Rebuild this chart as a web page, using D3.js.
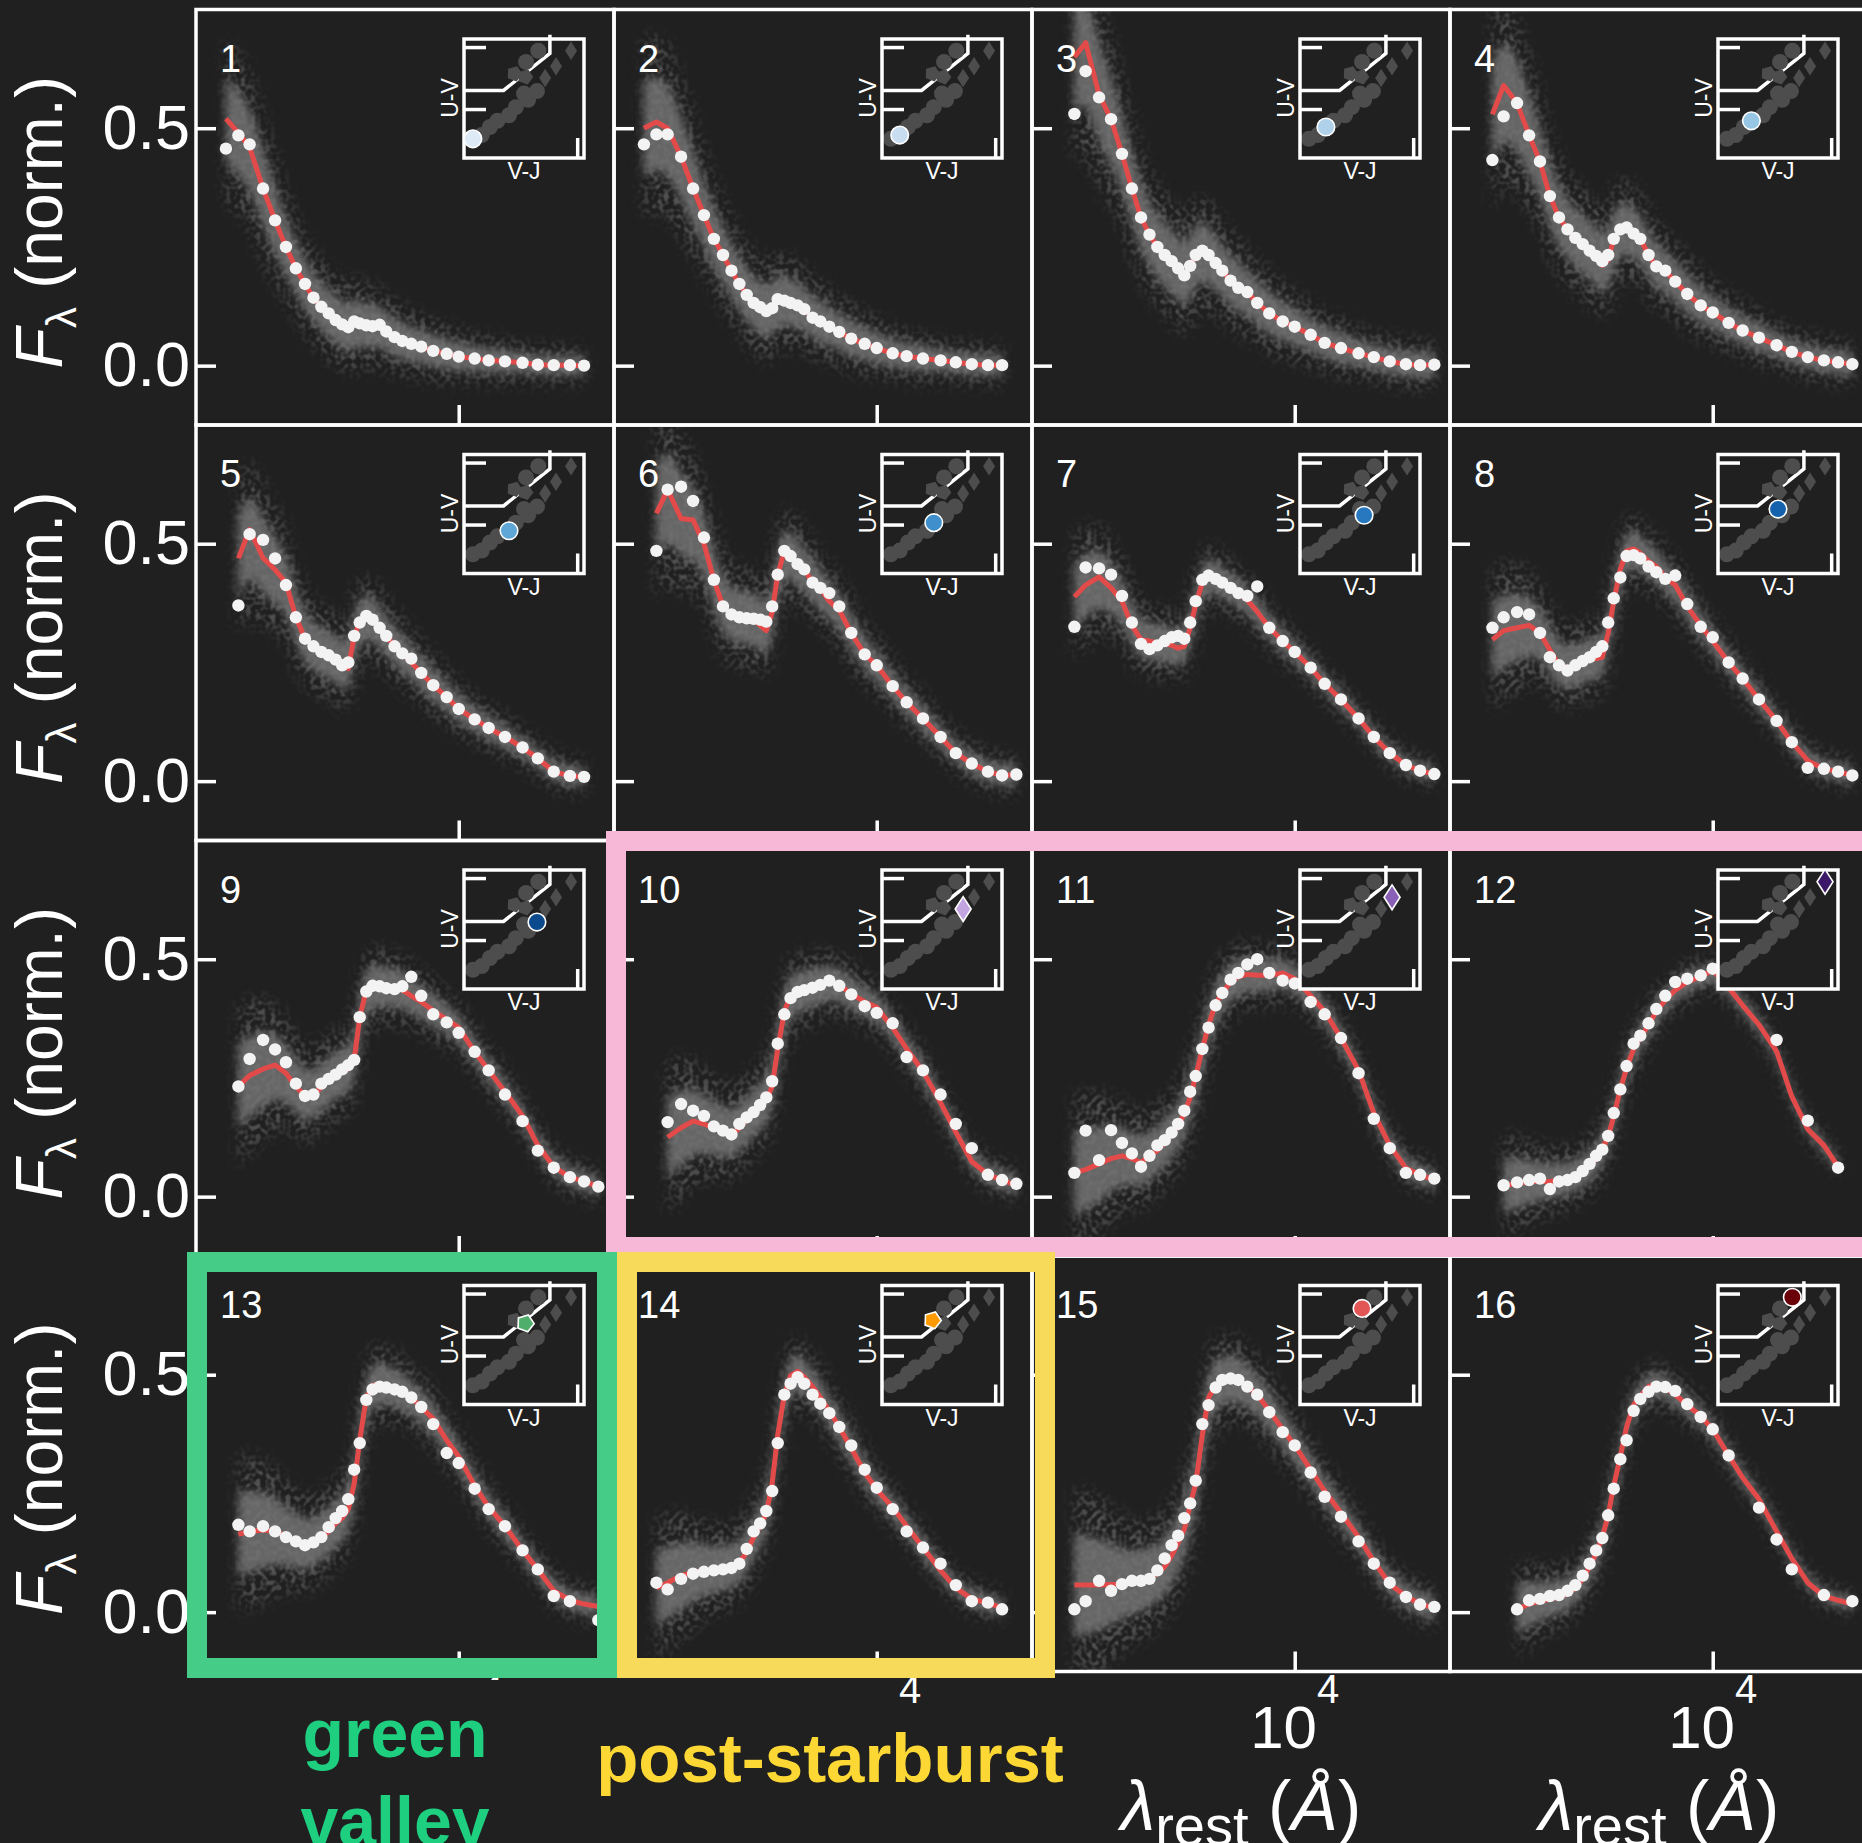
<!DOCTYPE html>
<meta charset="utf-8">
<script src="https://d3js.org/d3.v7.min.js"></script>
<style>
body { margin: 0; background: #202020; }
svg { display: block; font-family: 'Liberation Sans', Arial, Helvetica, sans-serif; }
</style>
<svg width="1862" height="1843"></svg>
<script>
// rest-frame wavelength grid (Angstrom) shared by all panels
var wavelengths = [1300, 1450, 1600, 1800, 2000, 2200, 2400, 2600, 2800, 3000, 3200, 3400, 3600, 3800,
  4000, 4200, 4450, 4700, 5000, 5300, 5700, 6100, 6600, 7200, 8000, 9000, 10000, 11500, 13000,
  15000, 17500, 20000, 23000, 26500, 30000, 34000];

// red model curve, one list per cluster
var modelFlux = [
  [0.52,0.49,0.46,0.373,0.306,0.25,0.205,0.172,0.143,0.124,0.110,0.096,0.087,0.076,0.091,0.087,0.083,0.082,0.084,0.071,0.059,0.052,0.046,0.040,0.031,0.025,0.019,0.015,0.011,0.009,0.006,0.002,0.001,0.001,0.0,null],
  [0.50,0.513,0.50,0.44,0.373,0.317,0.267,0.233,0.2,0.172,0.149,0.132,0.123,0.11,0.118,0.14,0.137,0.132,0.127,0.119,0.101,0.093,0.082,0.071,0.057,0.046,0.037,0.026,0.02,0.015,0.011,0.007,0.003,0.001,0.001,null],
  [null,0.65,0.68,0.57,0.519,0.446,0.373,0.312,0.276,0.25,0.233,0.22,0.205,0.183,0.21,0.233,0.242,0.233,0.216,0.2,0.179,0.164,0.155,0.132,0.11,0.093,0.082,0.065,0.048,0.037,0.026,0.018,0.009,0.003,0.001,0.002],
  [null,0.529,0.59,0.553,0.485,0.43,0.357,0.312,0.287,0.269,0.256,0.242,0.231,0.211,0.222,0.267,0.287,0.291,0.278,0.267,0.233,0.209,0.2,0.177,0.151,0.127,0.112,0.09,0.074,0.059,0.043,0.029,0.018,0.011,0.007,0.003],
  [null,0.469,0.53,0.47,0.445,0.418,0.345,0.30,0.284,0.272,0.265,0.256,0.244,0.237,0.306,0.334,0.348,0.34,0.323,0.306,0.284,0.269,0.25,0.228,0.202,0.177,0.152,0.13,0.112,0.093,0.071,0.048,0.02,0.011,0.009,null],
  [null,0.564,0.614,0.553,0.55,0.50,0.424,0.368,0.351,0.345,0.343,0.342,0.328,0.317,0.356,0.435,0.485,0.474,0.457,0.446,0.418,0.405,0.379,0.36,0.312,0.267,0.244,0.2,0.166,0.132,0.093,0.059,0.037,0.02,0.012,0.014],
  [null,0.388,0.413,0.43,0.407,0.379,0.328,0.298,0.295,0.291,0.289,0.286,0.28,0.284,0.323,0.373,0.418,0.435,0.429,0.418,0.407,0.396,0.381,0.357,0.323,0.295,0.272,0.239,0.205,0.172,0.132,0.093,0.059,0.034,0.022,0.015],
  [null,0.298,0.317,0.323,0.328,0.312,0.276,0.244,0.239,0.244,0.25,0.256,0.258,0.261,0.312,0.379,0.446,0.485,0.489,0.48,0.463,0.452,0.429,0.413,0.368,0.328,0.295,0.25,0.216,0.172,0.127,0.082,0.043,0.026,0.02,0.012],
  [null,0.232,0.255,0.269,0.277,0.26,0.232,0.212,0.215,0.23,0.245,0.254,0.262,0.269,0.288,0.378,0.435,0.443,0.443,0.441,0.439,0.435,0.423,0.41,0.392,0.373,0.356,0.305,0.266,0.221,0.17,0.108,0.063,0.041,0.032,0.021],
  [null,null,0.125,0.145,0.159,0.153,0.144,0.136,0.131,0.144,0.162,0.176,0.189,0.204,0.232,0.311,0.39,0.423,0.431,0.435,0.438,0.444,0.452,0.446,0.427,0.41,0.399,0.356,0.311,0.264,0.198,0.136,0.074,0.046,0.035,0.024],
  [null,0.05,0.057,0.069,0.08,0.086,0.08,0.072,0.086,0.097,0.114,0.131,0.148,0.176,0.209,0.254,0.311,0.361,0.407,0.429,0.452,0.463,0.468,0.466,0.466,0.471,0.459,0.423,0.39,0.334,0.266,0.176,0.108,0.06,0.046,0.035],
  [null,null,0.024,0.027,0.032,0.032,0.032,0.035,0.039,0.043,0.054,0.065,0.08,0.102,0.125,0.17,0.226,0.271,0.311,0.334,0.362,0.39,0.414,0.435,0.452,0.463,0.477,0.44,0.403,0.362,0.306,0.211,0.142,0.108,0.063,null],
  [null,0.164,0.17,0.173,0.17,0.161,0.149,0.141,0.147,0.158,0.17,0.187,0.198,0.217,0.271,0.362,0.452,0.477,0.481,0.479,0.473,0.464,0.452,0.432,0.407,0.362,0.328,0.266,0.221,0.181,0.13,0.09,0.045,0.025,0.017,0.012],
  [null,0.051,0.062,0.077,0.084,0.088,0.09,0.093,0.096,0.104,0.127,0.158,0.181,0.209,0.271,0.373,0.458,0.498,0.507,0.495,0.475,0.452,0.424,0.39,0.345,0.294,0.258,0.221,0.181,0.136,0.088,0.051,0.028,0.019,0.009,null],
  [null,0.057,0.057,0.057,0.058,0.059,0.062,0.066,0.074,0.081,0.096,0.119,0.147,0.175,0.226,0.271,0.373,0.452,0.477,0.489,0.492,0.489,0.475,0.458,0.424,0.385,0.351,0.3,0.255,0.209,0.158,0.107,0.059,0.034,0.017,0.009],
  [null,null,null,0.006,0.017,0.023,0.027,0.032,0.038,0.051,0.07,0.096,0.124,0.158,0.204,0.266,0.328,0.39,0.436,0.455,0.475,0.481,0.473,0.458,0.436,0.413,0.385,0.33,0.283,0.238,0.17,0.113,0.062,0.034,0.025,0.017]
];

// white stacked photometry points, one list per cluster
var stackFlux = [
  [0.457,0.485,0.466,0.373,0.306,0.25,0.205,0.172,0.143,0.124,0.110,0.096,0.087,0.081,0.093,0.089,0.085,0.083,0.086,0.072,0.06,0.052,0.046,0.04,0.031,0.025,0.019,0.015,0.011,0.009,0.006,0.002,0.001,0.001,0.0,null],
  [0.466,0.487,0.487,0.44,0.373,0.317,0.267,0.233,0.2,0.172,0.149,0.132,0.123,0.115,0.121,0.14,0.137,0.132,0.127,0.119,0.101,0.093,0.082,0.071,0.057,0.046,0.037,0.026,0.02,0.015,0.011,0.007,0.003,0.001,0.001,null],
  [null,0.53,0.62,0.565,0.519,0.446,0.373,0.312,0.276,0.25,0.233,0.22,0.205,0.19,0.21,0.233,0.242,0.233,0.216,0.2,0.179,0.164,0.155,0.132,0.11,0.093,0.082,0.065,0.048,0.037,0.026,0.018,0.009,0.003,0.001,0.002],
  [null,0.433,0.525,0.553,0.485,0.43,0.357,0.312,0.287,0.269,0.256,0.242,0.231,0.22,0.233,0.267,0.287,0.291,0.278,0.267,0.233,0.209,0.2,0.177,0.151,0.127,0.112,0.09,0.074,0.059,0.043,0.029,0.018,0.011,0.007,0.003],
  [null,0.37,0.52,0.508,0.469,0.413,0.345,0.30,0.284,0.272,0.265,0.256,0.244,0.25,0.306,0.334,0.348,0.34,0.323,0.306,0.284,0.269,0.258,0.228,0.202,0.177,0.152,0.13,0.112,0.093,0.071,0.048,0.02,0.011,0.009,null],
  [null,0.485,0.614,0.62,0.59,0.513,0.424,0.368,0.351,0.345,0.343,0.342,0.34,0.336,0.368,0.435,0.485,0.474,0.457,0.446,0.418,0.407,0.396,0.368,0.312,0.267,0.244,0.2,0.166,0.132,0.093,0.059,0.037,0.02,0.012,0.014],
  [null,0.325,0.45,0.448,0.435,0.39,0.334,0.289,0.278,0.286,0.295,0.303,0.306,0.30,0.334,0.379,0.424,0.433,0.426,0.418,0.407,0.396,0.39,0.41,0.323,0.295,0.272,0.239,0.205,0.172,0.132,0.093,0.059,0.034,0.022,0.015],
  [null,0.323,0.345,0.356,0.351,0.312,0.261,0.244,0.233,0.244,0.253,0.261,0.272,0.284,0.334,0.385,0.429,0.474,0.476,0.469,0.452,0.44,0.426,0.433,0.373,0.325,0.303,0.25,0.216,0.172,0.127,0.082,0.028,0.026,0.02,0.012],
  [null,0.232,0.29,0.33,0.31,0.283,0.238,0.212,0.215,0.238,0.248,0.257,0.268,0.277,0.288,0.378,0.432,0.444,0.443,0.439,0.437,0.443,0.463,0.423,0.384,0.367,0.345,0.305,0.266,0.215,0.159,0.097,0.061,0.041,0.032,0.021],
  [null,null,0.157,0.195,0.181,0.17,0.148,0.139,0.131,0.153,0.167,0.178,0.193,0.209,0.243,0.322,0.384,0.418,0.431,0.435,0.44,0.446,0.455,0.444,0.426,0.401,0.387,0.365,0.294,0.266,0.215,0.153,0.102,0.046,0.035,0.027],
  [null,0.05,0.139,0.077,0.14,0.113,0.091,0.063,0.086,0.108,0.119,0.135,0.153,0.181,0.221,0.254,0.311,0.356,0.403,0.429,0.457,0.471,0.489,0.5,0.471,0.455,0.449,0.41,0.384,0.334,0.26,0.164,0.102,0.05,0.046,0.038],
  [null,null,0.024,0.03,0.035,0.038,0.016,0.032,0.035,0.041,0.054,0.069,0.086,0.099,0.128,0.176,0.226,0.275,0.322,0.339,0.365,0.395,0.423,0.452,0.459,0.466,0.48,null,null,null,0.33,null,0.16,null,0.061,null],
  [null,0.184,0.17,0.181,0.17,0.158,0.149,0.141,0.147,0.158,0.179,0.198,0.213,0.238,0.3,0.356,0.447,0.469,0.475,0.473,0.469,0.464,0.452,0.432,0.396,0.335,0.314,0.26,0.217,0.181,0.13,0.09,0.034,0.023,null,-0.017],
  [null,0.062,0.048,0.07,0.081,0.085,0.088,0.09,0.093,0.102,0.133,0.17,0.187,0.213,0.255,0.356,0.458,0.481,0.495,0.481,0.458,0.439,0.419,0.39,0.351,0.3,0.262,0.217,0.17,0.136,0.102,0.057,0.023,0.02,0.006,null],
  [null,0.006,0.023,0.066,0.045,0.059,0.066,0.066,0.07,0.088,0.113,0.141,0.161,0.198,0.229,0.277,0.396,0.436,0.473,0.489,0.492,0.489,0.475,0.458,0.421,0.379,0.351,0.294,0.243,0.201,0.149,0.102,0.062,0.032,0.016,0.011],
  [null,null,null,0.006,0.025,0.028,0.034,0.036,0.045,0.057,0.077,0.102,0.13,0.156,0.204,0.26,0.322,0.362,0.424,0.449,0.464,0.475,0.474,0.466,0.438,0.411,0.385,0.33,null,0.22,0.153,0.09,null,0.036,null,0.023]
];

// half-width of the grey galaxy cloud along the grid, and per-cluster scaling
var cloudWidth = [0.09,0.09,0.085,0.08,0.07,0.06,0.055,0.055,0.05,0.05,0.05,0.05,0.05,0.05,0.05,0.05,
  0.045,0.045,0.045,0.04,0.04,0.04,0.035,0.035,0.035,0.03,0.03,0.025,0.025,0.025,0.02,0.02,0.02,0.02,0.02,0.02];
var cloudScale = [0.9,1.0,1.2,1.1,0.9,1.0,0.7,0.8,0.9,0.9,0.9,0.6,0.9,0.8,1.1,0.6];

var panelNames = ["1","2","3","4","5","6","7","8","9","10","11","12","13","14","15","16"];
var yTicks = [0, 0.5];
var xTicks = [10000];

// UVJ position of each cluster (inset)
var uvjVJ = [0.47,0.60,0.72,0.83,1.00,1.10,1.28,1.22,1.41,1.53,1.69,1.91,1.24,1.08,1.25,1.43];
var uvjUV = [0.52,0.58,0.71,0.81,0.90,1.03,1.15,1.25,1.29,1.50,1.69,1.94,1.52,1.57,1.76,1.94];
var uvjColors = ["#deebf7","#c9ddf0","#afd1ea","#96c6e4","#5ea7d7","#3e8fcb","#2878bf","#1462ad","#0b4a8c",
  "#c2a4e0","#8a5fb6","#3c1868","#4fae6b","#ff9a00","#e35656","#6a0008"];
var uvjShapes = ["circle","circle","circle","circle","circle","circle","circle","circle","circle",
  "diamond","diamond","diamond","pentagon","pentagon","circle","circle"];
var wedgeVJ = [0.34, 0.92, 1.6, 1.6];
var wedgeUV = [1.3, 1.3, 1.898, 2.2];

var svg = d3.select("svg"),
    gridLeft = 196, gridTop = 9.5,
    panelW = 418, panelH = 415.5;

svg.append("rect").attr("width", 1862).attr("height", 1843).attr("fill", "#202020");

var defs = svg.append("defs");
defs.append("filter").attr("id", "soft")
    .attr("x", "-20%").attr("y", "-20%").attr("width", "140%").attr("height", "140%")
  .append("feGaussianBlur").attr("stdDeviation", 4);

// speckled haze standing in for the cloud of single-galaxy points
var grain = defs.append("filter").attr("id", "grain")
    .attr("x", "-20%").attr("y", "-20%").attr("width", "140%").attr("height", "140%");
grain.append("feGaussianBlur").attr("in", "SourceGraphic").attr("stdDeviation", 8).attr("result", "b");
grain.append("feTurbulence").attr("type", "fractalNoise").attr("baseFrequency", 0.2)
    .attr("numOctaves", 1).attr("seed", 4).attr("result", "n");
grain.append("feColorMatrix").attr("in", "n").attr("type", "matrix")
    .attr("values", "0 0 0 0 1  0 0 0 0 1  0 0 0 0 1  4 0 0 0 -1.7").attr("result", "m");
grain.append("feComposite").attr("in", "b").attr("in2", "m").attr("operator", "in");

defs.append("clipPath").attr("id", "panelClip")
  .append("rect").attr("width", panelW).attr("height", panelH);

var x = d3.scaleLog().domain([1000, 39000]).range([0, panelW]);
var y = d3.scaleLinear().domain([-0.125, 0.75]).range([panelH, 0]);

// inset scales
var ix = d3.scaleLinear().domain([0.34, 2.10]).range([0, 120]);
var iy = d3.scaleLinear().domain([0.21, 2.13]).range([119, 0]);

function markerPath(shape, r) {
  if (shape == "diamond") return "M0," + (-r * 1.55) + "L" + r + ",0L0," + (r * 1.55) + "L" + (-r) + ",0Z";
  if (shape == "pentagon") {
    var pts = [0, 1, 2, 3, 4].map(function(k) {
      var a = -Math.PI / 2 + 0.35 + k * 2 * Math.PI / 5;
      return [r * Math.cos(a), r * Math.sin(a)];
    });
    return "M" + pts.join("L") + "Z";
  }
  return d3.symbol(d3.symbolCircle, Math.PI * r * r)();
}

modelFlux.forEach(function(model, i) {
  var col = i % 4, row = Math.floor(i / 4);
  var g = svg.append("g")
      .attr("transform", "translate(" + (gridLeft + col * panelW) + "," + (gridTop + row * panelH) + ")");

  var pts = wavelengths.map(function(w, k) {
    return {w: w, m: model[k], s: stackFlux[i][k], c: cloudWidth[k] * cloudScale[i]};
  });

  var plot = g.append("g").attr("clip-path", "url(#panelClip)");

  // grey cloud of individual galaxies
  [[2.1, "#808080", 0.5, "url(#grain)"], [1.1, "#737373", 0.85, "url(#soft)"]].forEach(function(b) {
    var band = d3.area()
        .defined(function(d) { return d.m != null; })
        .curve(d3.curveBasis)
        .x(function(d) { return x(d.w); })
        .y0(function(d) { return y(d.m - b[0] * d.c); })
        .y1(function(d) { return y(d.m + b[0] * d.c); });
    plot.append("path").datum(pts)
        .attr("d", band)
        .attr("fill", b[1])
        .attr("opacity", b[2])
        .attr("filter", b[3]);
  });

  plot.append("path").datum(pts)
      .attr("d", d3.line()
        .defined(function(d) { return d.m != null; })
        .x(function(d) { return x(d.w); })
        .y(function(d) { return y(d.m); }))
      .attr("fill", "none")
      .attr("stroke", "#e34a4a")
      .attr("stroke-width", 5)
      .attr("stroke-linejoin", "round");

  plot.selectAll("circle.pt")
      .data(pts.filter(function(d) { return d.s != null; }))
      .enter().append("circle")
      .attr("class", "pt")
      .attr("cx", function(d) { return x(d.w); })
      .attr("cy", function(d) { return y(d.s); })
      .attr("r", 6.2)
      .attr("fill", "#f3f3f3");

  // UVJ inset
  var ins = g.append("g").attr("transform", "translate(268,29.5)");
  ins.append("rect").attr("width", 120).attr("height", 119).attr("fill", "#202020");
  ins.append("path")
      .datum(wedgeVJ.map(function(v, k) { return [ix(v), iy(wedgeUV[k])]; }))
      .attr("d", d3.line())
      .attr("fill", "none").attr("stroke", "#fff").attr("stroke-width", 3.5);
  ins.selectAll("path.grey")
      .data(uvjVJ)
      .enter().append("path")
      .attr("class", "grey")
      .attr("transform", function(d, k) { return "translate(" + ix(d) + "," + iy(uvjUV[k]) + ")"; })
      .attr("d", function(d, k) { return markerPath(uvjShapes[k], uvjShapes[k] == "diamond" ? 6 : 8); })
      .attr("fill", "#4d4d4d");
  ins.append("g")
      .call(d3.axisLeft(iy).tickValues([1, 2]).tickSize(-22).tickFormat(""))
      .call(function(a) { a.select(".domain").remove(); a.selectAll("line").attr("stroke", "#fff").attr("stroke-width", 3.5); });
  ins.append("g").attr("transform", "translate(0,119)")
      .call(d3.axisBottom(ix).tickValues([2]).tickSize(-20).tickFormat(""))
      .call(function(a) { a.select(".domain").remove(); a.selectAll("line").attr("stroke", "#fff").attr("stroke-width", 3.5); });
  ins.append("rect").attr("width", 120).attr("height", 119)
      .attr("fill", "none").attr("stroke", "#fff").attr("stroke-width", 3.5);
  ins.append("path")
      .attr("transform", "translate(" + ix(uvjVJ[i]) + "," + iy(uvjUV[i]) + ")")
      .attr("d", markerPath(uvjShapes[i], uvjShapes[i] == "diamond" ? 8 : 8.8))
      .attr("fill", uvjColors[i])
      .attr("stroke", "#fff")
      .attr("stroke-width", 1.6);
  ins.append("text")
      .attr("transform", "translate(-6,59) rotate(-90)")
      .attr("text-anchor", "middle")
      .attr("fill", "#fff").attr("font-size", 23)
      .text("U-V");
  ins.append("text")
      .attr("x", 60).attr("y", 140)
      .attr("text-anchor", "middle")
      .attr("fill", "#fff").attr("font-size", 23)
      .text("V-J");

  // frame and inward ticks
  g.append("rect").attr("width", panelW).attr("height", panelH)
      .attr("fill", "none").attr("stroke", "#fff").attr("stroke-width", 3.5);
  g.append("g")
      .call(d3.axisLeft(y).tickValues(yTicks).tickSize(-20).tickPadding(6)
        .tickFormat(col == 0 ? d3.format(".1f") : ""))
      .call(function(a) {
        a.select(".domain").remove();
        a.selectAll("line").attr("stroke", "#fff").attr("stroke-width", 3.5);
        a.selectAll("text").attr("fill", "#fff").attr("font-size", 63)
          .attr("font-family", "'Liberation Sans', Arial, sans-serif");
      });
  g.append("g").attr("transform", "translate(0," + panelH + ")")
      .call(d3.axisBottom(x).tickValues(xTicks).tickSize(-20).tickFormat(""))
      .call(function(a) { a.select(".domain").remove(); a.selectAll("line").attr("stroke", "#fff").attr("stroke-width", 3.5); });

  g.append("text")
      .attr("x", 24).attr("y", 62)
      .attr("fill", "#fff").attr("font-size", 38)
      .text(panelNames[i]);
});

// y axis titles
[0, 1, 2, 3].forEach(function(row) {
  var t = svg.append("text")
      .attr("transform", "translate(62," + (gridTop + row * panelH + panelH / 2 + 5) + ") rotate(-90)")
      .attr("text-anchor", "middle")
      .attr("fill", "#fff")
      .attr("font-size", 66);
  t.append("tspan").attr("font-style", "italic").text("F");
  t.append("tspan").attr("font-size", 42).attr("dy", 14).text("λ");
  t.append("tspan").attr("dy", -14).text(" (norm.)");
});

// x tick labels and titles under the bottom row
[0, 1, 2, 3].forEach(function(col) {
  var x0 = gridLeft + col * panelW;
  var base = gridTop + 4 * panelH;
  xTicks.forEach(function(v) {
    var t = svg.append("text")
        .attr("x", x0 + x(v)).attr("y", base + 76)
        .attr("text-anchor", "middle")
        .attr("fill", "#fff").attr("font-size", 60);
    t.append("tspan").text("10");
    t.append("tspan").attr("font-size", 40).attr("dy", -45).text("4");
  });
  var lab = svg.append("text")
      .attr("x", x0 + panelW / 2).attr("y", 1830)
      .attr("text-anchor", "middle")
      .attr("fill", "#fff").attr("font-size", 70);
  lab.append("tspan").attr("font-style", "italic").text("λ");
  lab.append("tspan").attr("font-size", 56).attr("dy", 15).text("rest");
  lab.append("tspan").attr("dy", -15).text(" (");
  lab.append("tspan").attr("font-style", "italic").text("Å");
  lab.append("tspan").text(")");
});

// highlighted groups
svg.append("rect").attr("x", 616).attr("y", 841).attr("width", 1300).attr("height", 406)
    .attr("fill", "none").attr("stroke", "#f7b8d8").attr("stroke-width", 20);
svg.append("rect").attr("x", 197).attr("y", 1262).attr("width", 410).attr("height", 406)
    .attr("fill", "none").attr("stroke", "#45cd88").attr("stroke-width", 20);
svg.append("rect").attr("x", 627).attr("y", 1262).attr("width", 418).attr("height", 406)
    .attr("fill", "none").attr("stroke", "#f8da5a").attr("stroke-width", 20);

svg.append("rect").attr("x", 186).attr("y", 1680).attr("width", 431).attr("height", 170).attr("fill", "#202020");
svg.append("rect").attr("x", 575).attr("y", 1703).attr("width", 515).attr("height", 150).attr("fill", "#202020");

var green = svg.append("text")
    .attr("text-anchor", "middle")
    .attr("fill", "#1fcf80")
    .attr("font-size", 68)
    .attr("font-weight", "bold");
green.append("tspan").attr("x", 395).attr("y", 1757).text("green");
green.append("tspan").attr("x", 395).attr("y", 1845).text("valley");

svg.append("text")
    .attr("x", 830).attr("y", 1782)
    .attr("text-anchor", "middle")
    .attr("fill", "#fdd835")
    .attr("font-size", 69)
    .attr("font-weight", "bold")
    .text("post-starburst");
</script>
